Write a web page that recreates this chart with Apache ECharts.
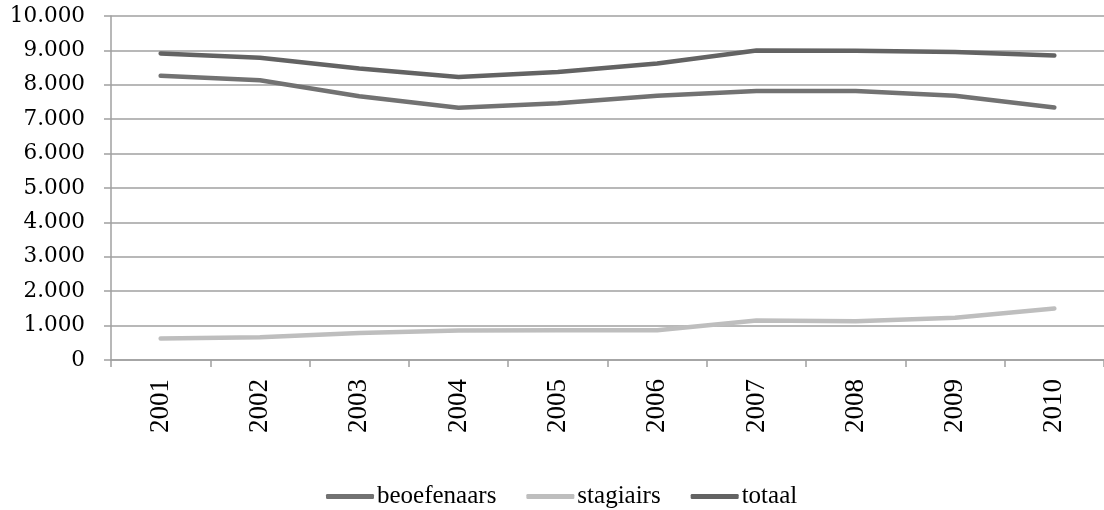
<!DOCTYPE html>
<html>
<head>
<meta charset="utf-8">
<script src="https://cdn.jsdelivr.net/npm/echarts@6/dist/echarts.min.js"></script>
<style>
html,body{margin:0;padding:0;background:#fff;}
#chart{width:1104px;height:510px;}
</style>
</head>
<body>
<div id="chart"></div>
<script>
const years = ['2001','2002','2003','2004','2005','2006','2007','2008','2009','2010'];
const beoefenaars = [8262, 8135, 7665, 7335, 7465, 7680, 7820, 7820, 7680, 7340];
const stagiairs = [625, 660, 785, 855, 865, 865, 1150, 1130, 1225, 1495];
const totaal = [8912, 8787, 8475, 8230, 8375, 8620, 8995, 8990, 8950, 8855];
const yTicks = {min: 0, max: 10000, interval: 1000};

function fmt(v){
  if (v === 0) return '0';
  const s = String(v);
  return s.slice(0, s.length - 3) + '.' + s.slice(s.length - 3);
}

const chart = echarts.init(document.getElementById('chart'), null, {renderer: 'canvas'});
const lineCommon = {type: 'line', symbol: 'none', showSymbol: false, smooth: false, animation: false};
chart.setOption({
  animation: false,
  grid: {left: 111, right: -4, top: 16, bottom: 150, containLabel: false},
  xAxis: {
    type: 'category',
    data: years,
    boundaryGap: true,
    axisLine: {lineStyle: {color: '#a0a0a0', width: 1.5}},
    axisTick: {show: true, length: 7, lineStyle: {color: '#a0a0a0', width: 1.5}},
    axisLabel: {rotate: 90, margin: 19, color: '#000', fontFamily: 'Liberation Serif', fontSize: 27}
  },
  yAxis: {
    type: 'value',
    min: yTicks.min, max: yTicks.max, interval: yTicks.interval,
    axisLine: {show: true, lineStyle: {color: '#a0a0a0', width: 1.5}},
    axisTick: {show: true, length: 7, lineStyle: {color: '#a0a0a0', width: 1.5}},
    splitLine: {show: true, lineStyle: {color: '#a0a0a0', width: 1.5}},
    axisLabel: {margin: 26, color: '#000', fontFamily: 'DejaVu Serif', fontSize: 21.5, formatter: fmt}
  },
  legend: {
    top: 479,
    left: 321,
    icon: 'roundRect',
    itemWidth: 48,
    itemHeight: 5,
    itemGap: 30,
    textStyle: {color: '#000', fontFamily: 'Liberation Serif', fontSize: 25, padding: [0, 0, 0, -2]},
    data: [
      {name: 'beoefenaars', itemStyle: {color: '#727272'}},
      {name: 'stagiairs', itemStyle: {color: '#bebebe'}},
      {name: 'totaal', itemStyle: {color: '#636363'}}
    ]
  },
  series: [
    Object.assign({}, lineCommon, {name: 'beoefenaars', data: beoefenaars, color: '#727272',
      lineStyle: {color: '#727272', width: 4.5, cap: 'round', join: 'round'}}),
    Object.assign({}, lineCommon, {name: 'stagiairs', data: stagiairs, color: '#bebebe',
      lineStyle: {color: '#bebebe', width: 4.5, cap: 'round', join: 'round'}}),
    Object.assign({}, lineCommon, {name: 'totaal', data: totaal, color: '#636363',
      lineStyle: {color: '#636363', width: 4.5, cap: 'round', join: 'round'}})
  ]
});
</script>
</body>
</html>
